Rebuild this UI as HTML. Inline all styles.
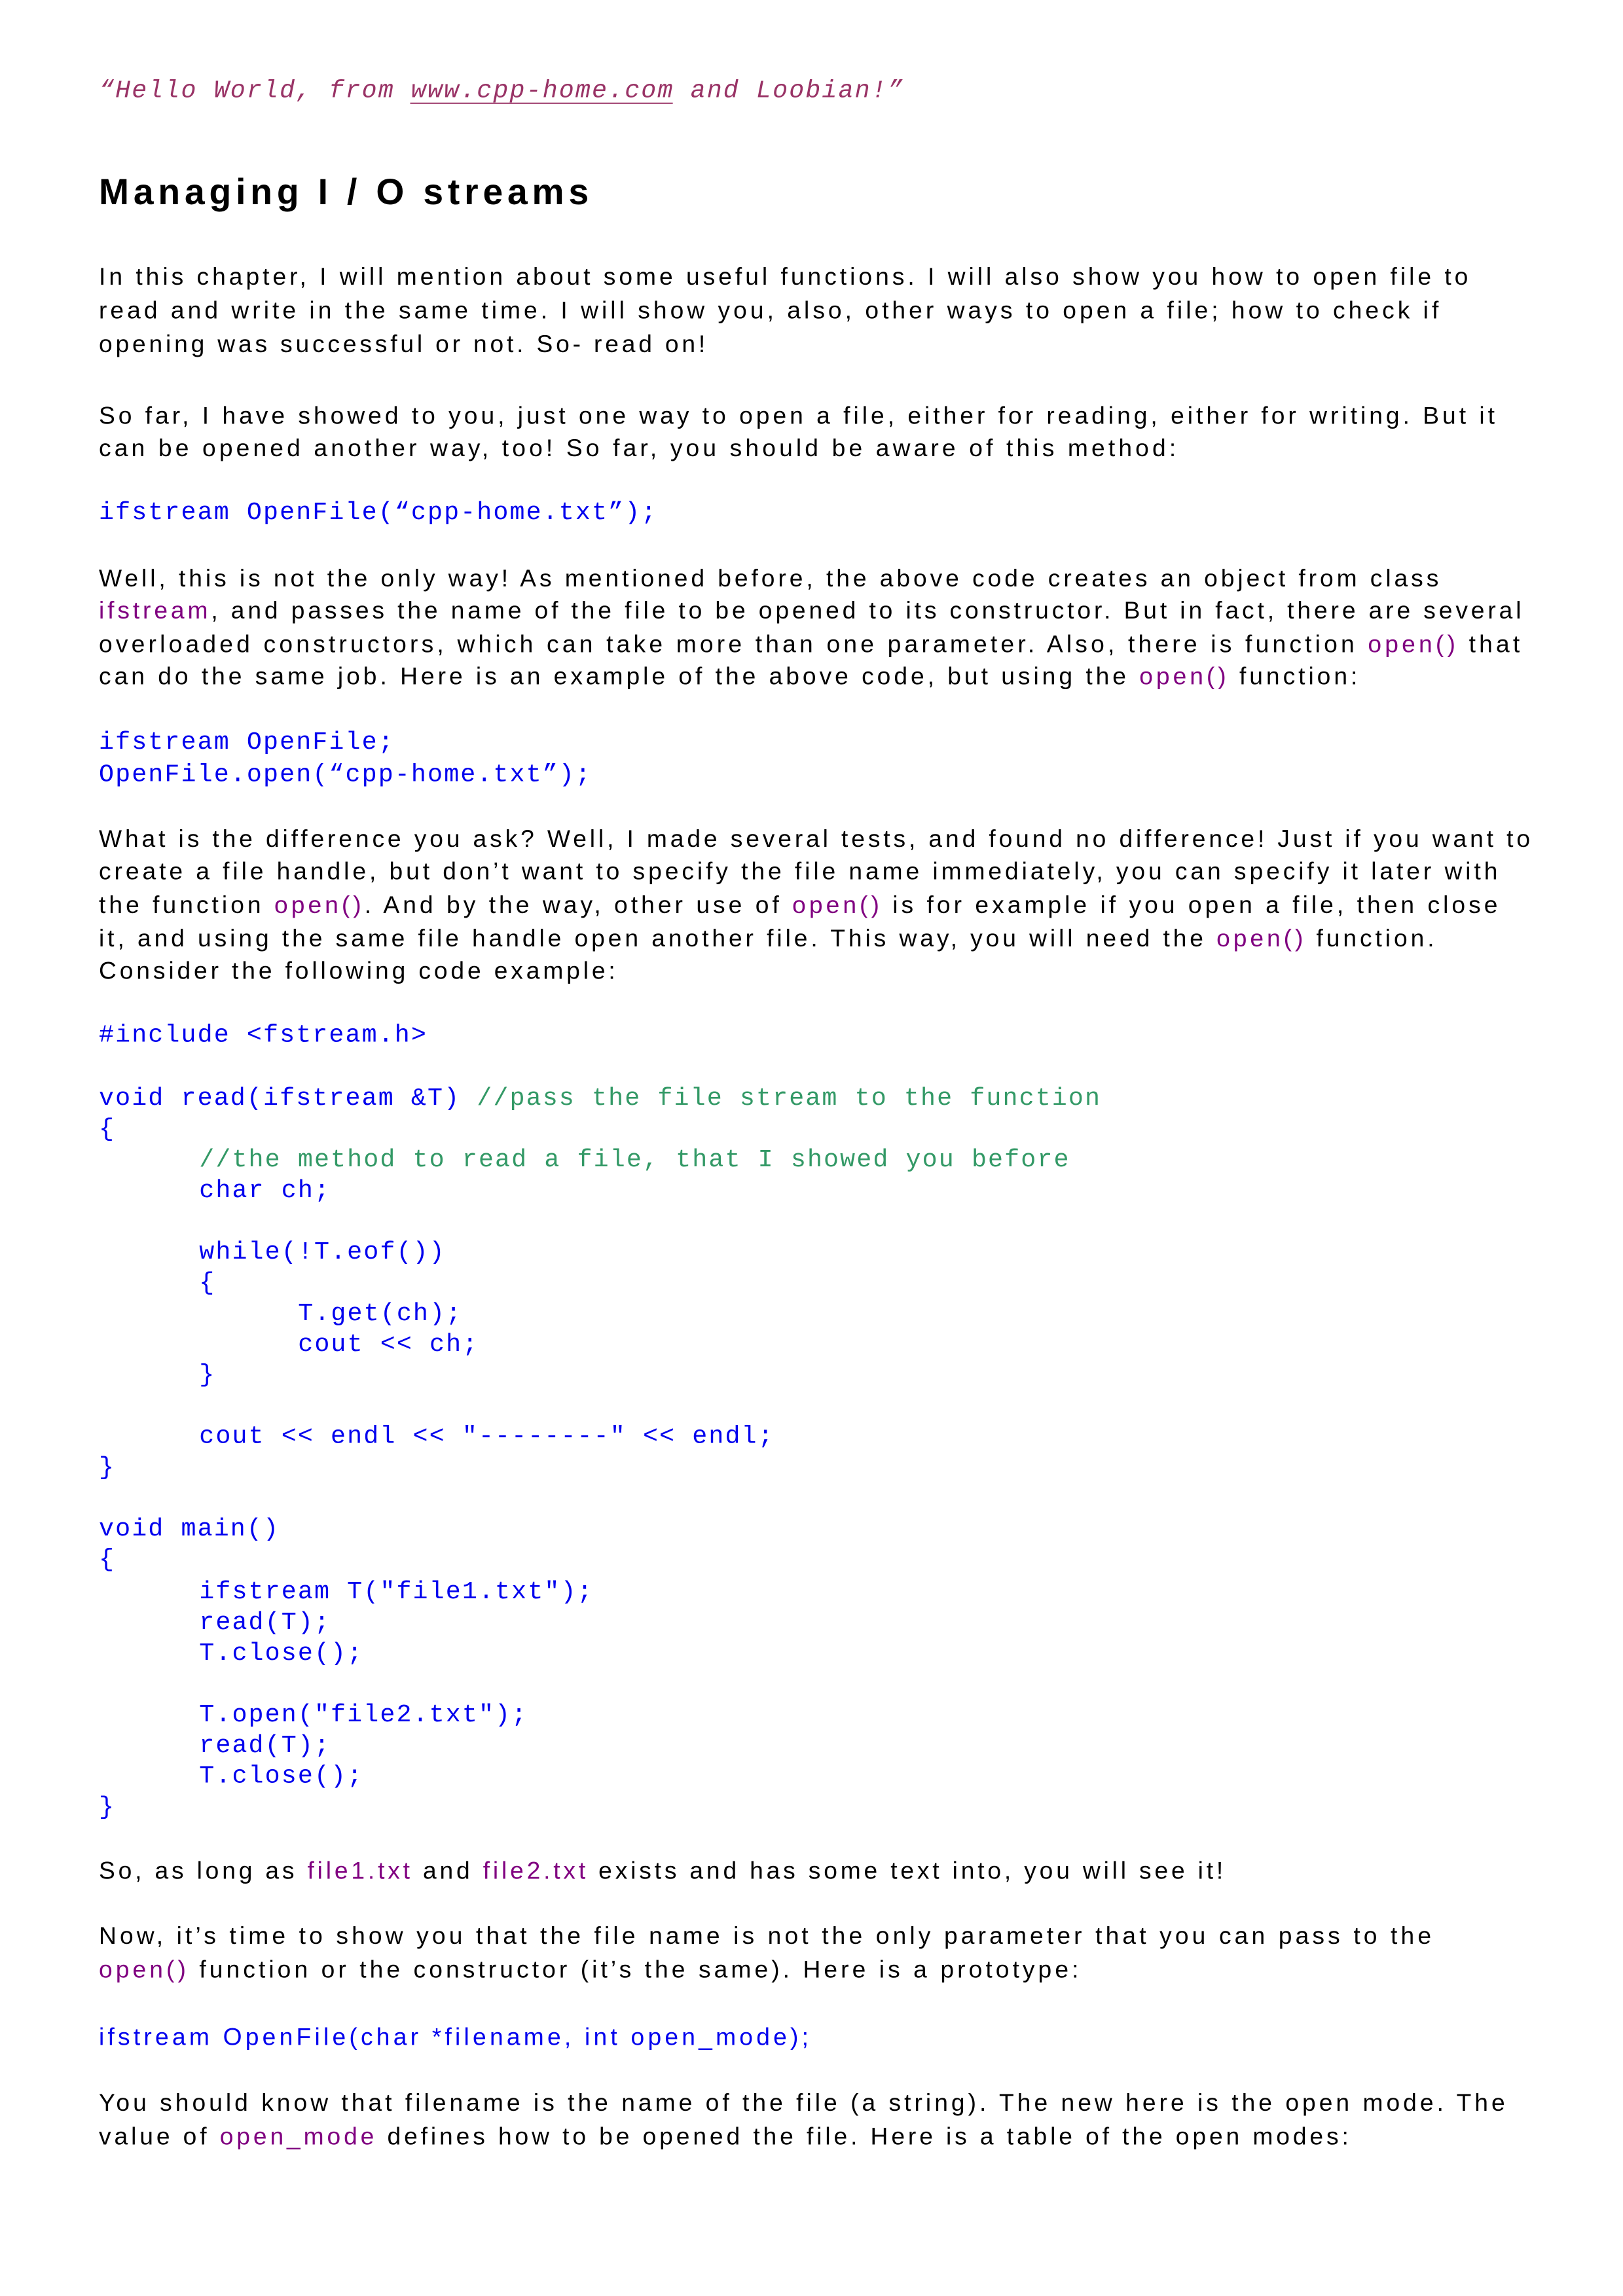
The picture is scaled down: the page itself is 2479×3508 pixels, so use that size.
<!DOCTYPE html>
<html><head><meta charset="utf-8"><style>
html,body{margin:0;padding:0;background:#fff}
svg{display:block}
.b{font-family:"Liberation Sans",Arial,sans-serif;font-size:16.5px;fill:#000}
.h{font-family:"Liberation Sans",Arial,sans-serif;font-size:24.5px;font-weight:bold;fill:#000}
.m{font-family:"Liberation Mono",monospace;font-size:17px;letter-spacing:0.94px;fill:#0000ee}
.q{font-family:"Liberation Mono",monospace;font-size:17px;letter-spacing:0.94px;fill:#993366;font-style:italic}
.p{fill:#800080}
.g{fill:#339966}
.s{font-family:"Liberation Sans",Arial,sans-serif;font-size:16.5px;fill:#0000ee}
</style></head><body>
<svg width="2479" height="3508" viewBox="0 0 1100 1556.6" xmlns="http://www.w3.org/2000/svg">
<text class="q" x="67" y="66">“Hello World, from www.cpp-home.com and Loobian!”</text>
<line x1="278" y1="70" x2="456" y2="70" stroke="#993366" stroke-width="0.9"/>
<text class="h" x="67" y="138.5" textLength="332" lengthAdjust="spacing">Managing I / O streams</text>

<text class="b" x="67" y="193" textLength="928" lengthAdjust="spacing">In this chapter, I will mention about some useful functions. I will also show you how to open file to</text>
<text class="b" x="67" y="215.8" textLength="908" lengthAdjust="spacing">read and write in the same time. I will show you, also, other ways to open a file; how to check if</text>
<text class="b" x="67" y="238.7" textLength="411" lengthAdjust="spacing">opening was successful or not. So- read on!</text>

<text class="b" x="67" y="287.3" textLength="946" lengthAdjust="spacing">So far, I have showed to you, just one way to open a file, either for reading, either for writing. But it</text>
<text class="b" x="67" y="309.2" textLength="730" lengthAdjust="spacing">can be opened another way, too! So far, you should be aware of this method:</text>

<text class="m" x="67" y="351.8">ifstream OpenFile(“cpp-home.txt”);</text>

<text class="b" x="67" y="397.5" textLength="908" lengthAdjust="spacing">Well, this is not the only way! As mentioned before, the above code creates an object from class</text>
<text class="b" x="67" y="419.4" textLength="964" lengthAdjust="spacing"><tspan class="p">ifstream</tspan>, and passes the name of the file to be opened to its constructor. But in fact, there are several</text>
<text class="b" x="67" y="442.2" textLength="963" lengthAdjust="spacing">overloaded constructors, which can take more than one parameter.  Also, there is function <tspan class="p">open()</tspan> that</text>
<text class="b" x="67" y="464" textLength="853" lengthAdjust="spacing">can do the same job. Here is an example of the above code, but using the <tspan class="p">open()</tspan> function:</text>

<text class="m" x="67" y="507.7">ifstream OpenFile;</text>
<text class="m" x="67" y="529.6">OpenFile.open(“cpp-home.txt”);</text>

<text class="b" x="67" y="574.2" textLength="970" lengthAdjust="spacing">What is the difference you ask? Well, I made several tests, and found no difference! Just if you want to</text>
<text class="b" x="67" y="596.1" textLength="948" lengthAdjust="spacing">create a file handle, but don’t want to specify the file name immediately, you can specify it later with</text>
<text class="b" x="67" y="618.9" textLength="948" lengthAdjust="spacing">the function <tspan class="p">open()</tspan>. And by the way, other use of <tspan class="p">open()</tspan> is for example if you open a file, then close</text>
<text class="b" x="67" y="641.7" textLength="905" lengthAdjust="spacing">it, and using the same file handle open another file. This way, you will need the <tspan class="p">open()</tspan> function.</text>
<text class="b" x="67" y="663.6" textLength="350" lengthAdjust="spacing">Consider the following code example:</text>

<text class="m" x="67" y="706.3">#include &lt;fstream.h&gt;</text>
<text class="m" x="67" y="749">void read(ifstream &amp;T) <tspan class="g">//pass the file stream to the function</tspan></text>
<text class="m" x="67" y="769.8">{</text>
<text class="m g" x="135" y="790.7">//the method to read a file, that I showed you before</text>
<text class="m" x="135" y="811.5">char ch;</text>
<text class="m" x="135" y="853.2">while(!T.eof())</text>
<text class="m" x="135" y="874.1">{</text>
<text class="m" x="202" y="894.9">T.get(ch);</text>
<text class="m" x="202" y="915.8">cout &lt;&lt; ch;</text>
<text class="m" x="135" y="936.6">}</text>
<text class="m" x="135" y="978.3">cout &lt;&lt; endl &lt;&lt; "--------" &lt;&lt; endl;</text>
<text class="m" x="67" y="999.2">}</text>

<text class="m" x="67" y="1040.9">void main()</text>
<text class="m" x="67" y="1061.7">{</text>
<text class="m" x="135" y="1083.6">ifstream T("file1.txt");</text>
<text class="m" x="135" y="1104.4">read(T);</text>
<text class="m" x="135" y="1125.2">T.close();</text>
<text class="m" x="135" y="1166.9">T.open("file2.txt");</text>
<text class="m" x="135" y="1187.8">read(T);</text>
<text class="m" x="135" y="1208.6">T.close();</text>
<text class="m" x="67" y="1229.5">}</text>

<text class="b" x="67" y="1273.7" textLength="762" lengthAdjust="spacing">So, as long as <tspan class="p">file1.txt</tspan> and <tspan class="p">file2.txt</tspan> exists and has some text into, you will see it!</text>

<text class="b" x="67" y="1317.8" textLength="903" lengthAdjust="spacing">Now, it’s time to show you that the file name is not the only parameter that you can pass to the</text>
<text class="b" x="67" y="1340.7" textLength="664" lengthAdjust="spacing"><tspan class="p">open()</tspan> function or the constructor (it’s the same). Here is a prototype:</text>

<text class="s" x="67" y="1386.5" textLength="481" lengthAdjust="spacing">ifstream OpenFile(char *filename, int open_mode);</text>

<text class="b" x="67" y="1431" textLength="953" lengthAdjust="spacing">You should know that filename is the name of the file (a string). The new here is the open mode. The</text>
<text class="b" x="67" y="1453.9" textLength="847" lengthAdjust="spacing">value of <tspan class="p">open_mode</tspan> defines how to be opened the file. Here is a table of the open modes:</text>
</svg>
</body></html>
